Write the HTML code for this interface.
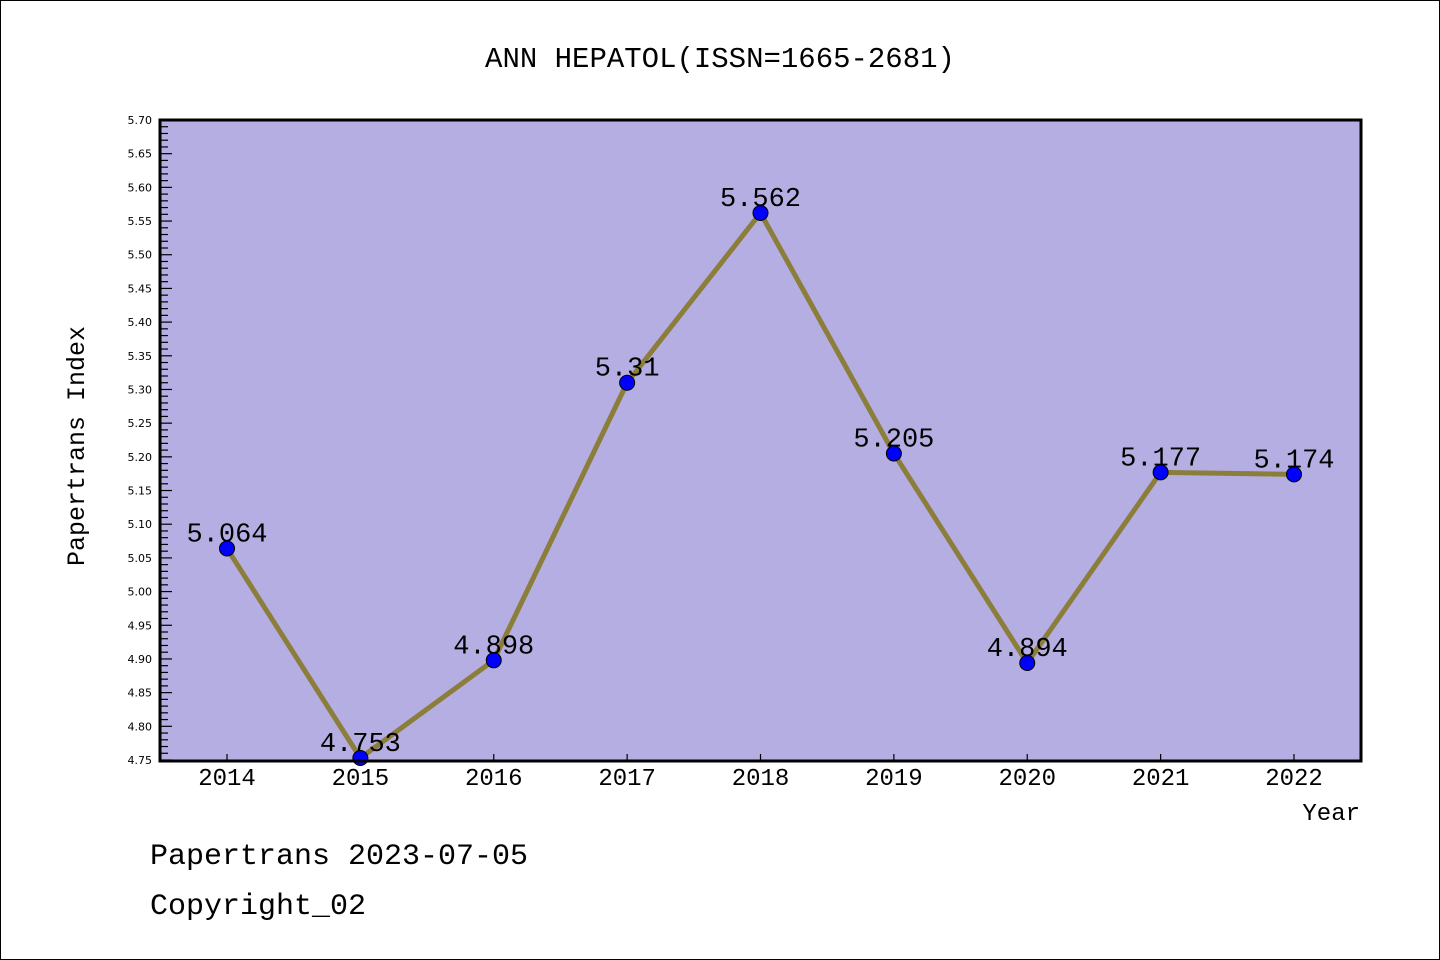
<!DOCTYPE html>
<html><head><meta charset="utf-8"><style>
body{margin:0;background:#fff;}
svg{display:block;}
text{font-family:"Liberation Mono","Noto Sans CJK SC",monospace;fill:#000;}
</style></head><body>
<svg width="1440" height="960">
<rect x="0.5" y="0.5" width="1439" height="959" fill="#fff" stroke="#000"/>
<text x="720" y="67" font-size="29" text-anchor="middle">ANN HEPATOL(ISSN=1665-2681)</text>
<rect x="160" y="120" width="1201" height="641" fill="#b5aee2"/>
<g id="yticks"></g>
<g id="xticks"></g>
<g id="series"></g>
<rect x="160" y="120" width="1201" height="641" fill="none" stroke="#000" stroke-width="3"/>
<text x="0" y="0" font-size="25" text-anchor="middle" transform="translate(84,446) rotate(-90)">Papertrans Index</text>
<text x="1360" y="820" font-size="24" text-anchor="end">Year</text>
<text x="150" y="864" font-size="30">Papertrans 2023-07-05</text>
<text x="150" y="914" font-size="30">Copyright_02</text>
</svg>
<script>
const years=[2014,2015,2016,2017,2018,2019,2020,2021,2022];
const values=[5.064,4.753,4.898,5.31,5.562,5.205,4.894,5.177,5.174];
const labels=["5.064","4.753","4.898","5.31","5.562","5.205","4.894","5.177","5.174"];
const yMin=4.75,yMax=5.70;
const NS="http://www.w3.org/2000/svg";
const X0=160,X1=1361,Y0=760,Y1=120;
function xs(i){return 227+i*(1294-227)/(years.length-1);}
function ys(v){return Y0-(v-yMin)/(yMax-yMin)*(Y0-Y1);}
function mk(t,a,p){const e=document.createElementNS(NS,t);for(const k in a)e.setAttribute(k,a[k]);p.appendChild(e);return e;}
const yt=document.getElementById('yticks');
for(let k=0;k<=95;k++){const v=yMin+k*0.01;const y=ys(v);const major=k%5===0;
 const l=mk('line',{x1:X0,x2:X0+(major?12:8),y1:y,y2:y,stroke:'#000','stroke-width':1.2},yt);
 
 if(major){const t=mk('text',{x:152,y:y+4,'font-size':11,'text-anchor':'end',style:'font-family:"DejaVu Sans",sans-serif'},yt);t.textContent=v.toFixed(2);
 }}
const xt=document.getElementById('xticks');
years.forEach((yr,i)=>{const x=xs(i);
 const l=mk('line',{x1:x,x2:x,y1:Y0,y2:Y0-6,stroke:'#000','stroke-width':1.2},xt);
 
 const t=mk('text',{x:x,y:785,'font-size':24,'text-anchor':'middle'},xt);t.textContent=yr;
 });
const s=document.getElementById('series');
const pl=mk('polyline',{points:values.map((v,i)=>xs(i)+','+ys(v)).join(' '),fill:'none',stroke:'#8b7d3a','stroke-width':5,'stroke-linejoin':'round'},s);

values.forEach((v,i)=>{const c=mk('circle',{cx:xs(i),cy:ys(v),r:7.5,fill:'#0000ff',stroke:'#000','stroke-width':1},s);
 
 const t=mk('text',{x:xs(i),y:ys(v)-7,'font-size':27,'text-anchor':'middle'},s);t.textContent=labels[i];
 });
</script>
</body></html>
